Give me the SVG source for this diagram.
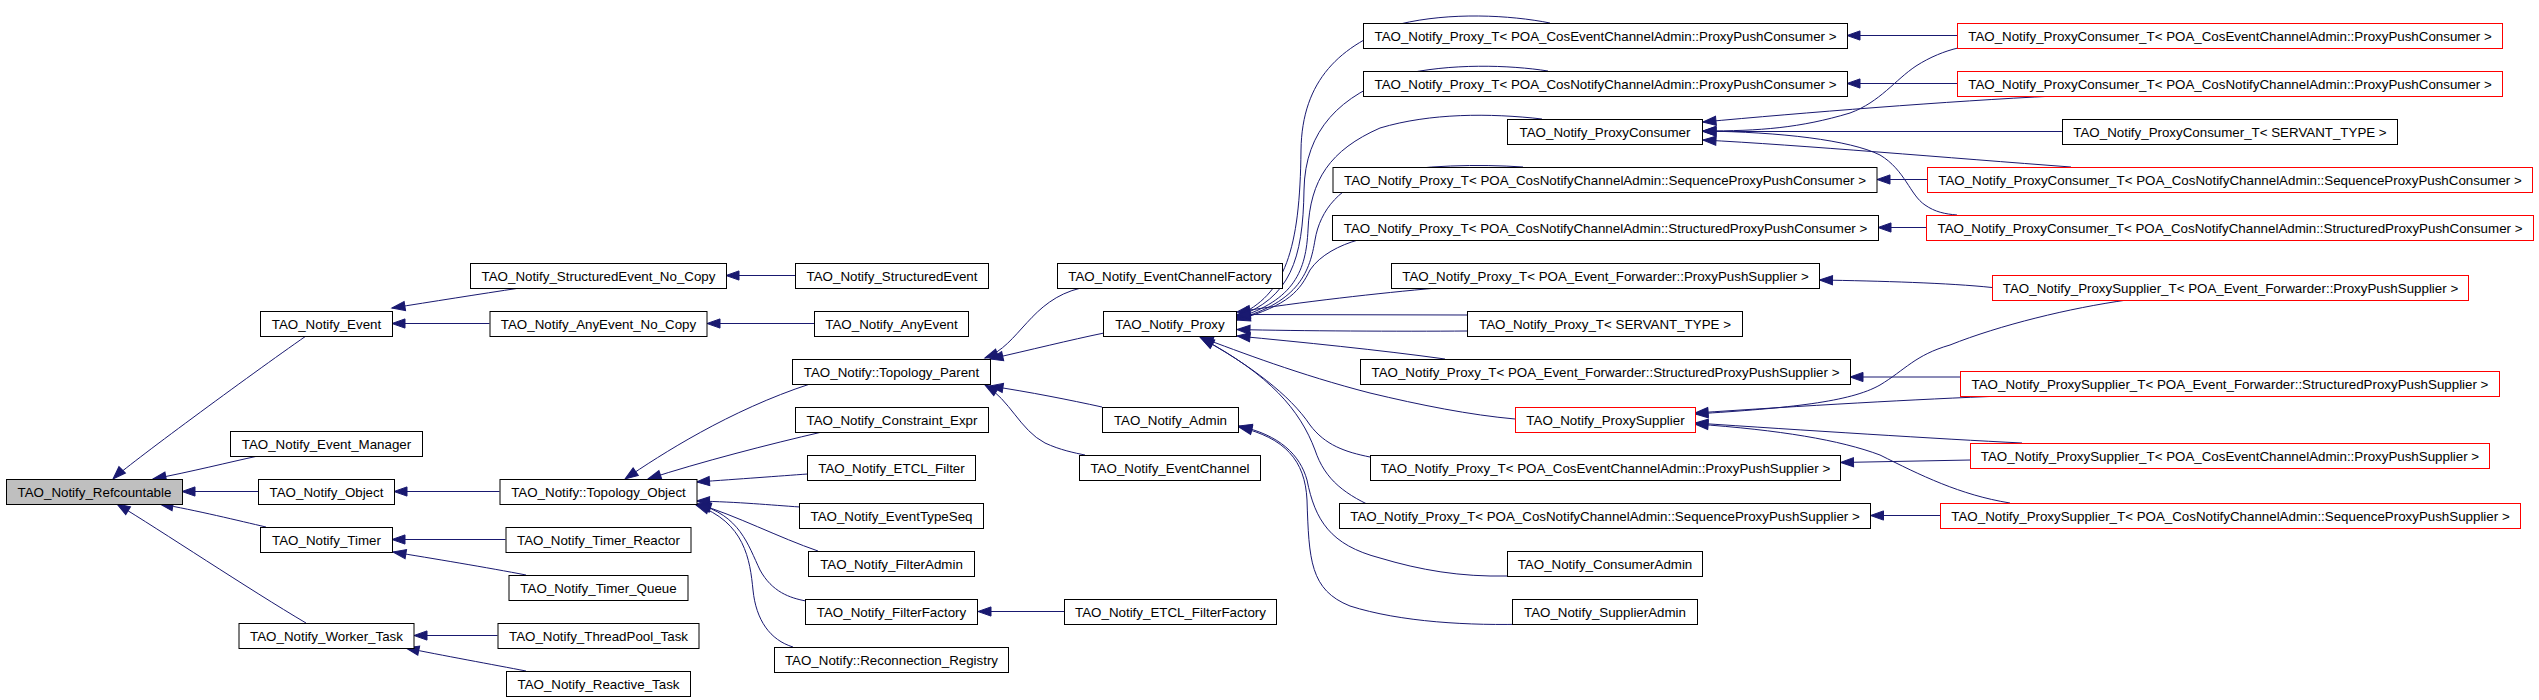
<svg xmlns="http://www.w3.org/2000/svg" width="2539" height="700" viewBox="0 0 2539 700">
<style>
rect{fill:#ffffff;stroke:#000000;stroke-width:1}
rect.r{stroke:#ff0000}
rect.g{fill:#bfbfbf}
text{font-family:"Liberation Sans",Arial,Helvetica,sans-serif;font-size:13.33px;fill:#000000;text-anchor:middle}
#edges path{fill:none;stroke:#191970;stroke-width:1;marker-start:url(#ah)}
</style>
<defs>
<marker id="ah" markerUnits="userSpaceOnUse" markerWidth="16" markerHeight="12" refX="0" refY="5" orient="auto" viewBox="0 0 16 10" overflow="visible">
<path d="M0,5 L13,0.4 L13,9.6 Z" fill="#191970" stroke="#191970" stroke-width="1"/>
</marker>
</defs>
<rect x="0" y="0" width="2539" height="700" style="fill:#ffffff;stroke:none"/>
<g id="edges">
<path d="M113,479 C125,467 250,375 306,336"/>
<path d="M153,479 C190,472 230,462 258,456"/>
<path d="M182,491.5 L258,491.5"/>
<path d="M160,504 C195,510 240,521 266,527"/>
<path d="M117,504 C160,530 250,590 306,623"/>
<path d="M392,308 C430,302 480,294 520,288"/>
<path d="M392,323.5 L489.5,323.5"/>
<path d="M726,275.5 L795,275.5"/>
<path d="M707,323.5 L814.5,323.5"/>
<path d="M394,491.5 L499.5,491.5"/>
<path d="M392,539.5 L505.5,539.5"/>
<path d="M393,552 C430,558 490,568 526,575"/>
<path d="M414,635.5 L497.5,635.5"/>
<path d="M406,648 C440,655 495,665 526,671"/>
<path d="M625,479 C660,455 730,410 810,384"/>
<path d="M648,479 C700,462 770,444 822,432"/>
<path d="M696.5,482 C740,479 780,476 807.5,474"/>
<path d="M696.5,501 C740,502 770,505 800,507"/>
<path d="M698,504 C735,515 780,538 818,551"/>
<path d="M697,504 C740,515 748,545 760,570 C772,592 790,598 806,601"/>
<path d="M696,505 C745,522 750,560 753,590 C756,620 770,640 793,647"/>
<path d="M978,611.5 L1064,611.5"/>
<path d="M985,358 C1020,345 1030,300 1081,288"/>
<path d="M990,359 C1030,350 1070,340 1104,333"/>
<path d="M990,386 C1030,392 1070,400 1102,407"/>
<path d="M985,385 C1010,400 1020,430 1045,443 C1060,450 1075,453 1085,455"/>
<path d="M1237,316 C1285,295 1300,250 1301,150 C1302,80 1340,45 1400,24 C1450,12 1510,15 1550,23"/>
<path d="M1237,317 C1290,298 1303,260 1304,190 C1305,130 1340,95 1400,75 C1450,63 1510,65 1548,71"/>
<path d="M1237,318 C1295,300 1306,270 1308,230 C1310,180 1330,150 1380,128 C1430,113 1490,113 1542,119"/>
<path d="M1237,319 C1300,302 1310,270 1315,240 C1320,210 1340,185 1380,174 C1420,165 1480,164 1523,167"/>
<path d="M1237,320 C1290,305 1300,290 1310,270 C1320,255 1340,245 1358,240"/>
<path d="M1237,312 C1300,302 1380,293 1437,288"/>
<path d="M1237,314.5 L1467.5,315"/>
<path d="M1237,329.5 C1300,331 1400,331.5 1467.5,331"/>
<path d="M1237,336 C1300,342 1380,350 1445,359"/>
<path d="M1200,337 C1240,352 1300,375 1370,393 C1420,405 1470,415 1515,419"/>
<path d="M1201,338 C1250,365 1290,395 1310,425 C1325,445 1345,452 1370,457"/>
<path d="M1201,338 C1270,375 1300,410 1315,450 C1325,480 1345,495 1380,510 C1420,524 1460,528 1500,528"/>
<path d="M1239,426 C1280,435 1300,455 1307,480 C1315,520 1330,545 1380,558 C1420,570 1460,577 1507.5,576"/>
<path d="M1239,427 C1285,438 1305,460 1307,500 C1309,560 1310,590 1350,606 C1400,622 1470,626 1530,624"/>
<path d="M1847,35.5 L1957.5,35.5"/>
<path d="M1847,83.5 L1957.5,83.5"/>
<path d="M1877,179.5 L1927.5,179.5"/>
<path d="M1878,227.5 L1926.5,227.5"/>
<path d="M1703,131 C1760,131 1800,128 1850,113 C1880,102 1895,80 1916,66 C1930,57 1945,51 1958,48"/>
<path d="M1703,122 C1800,113 1950,101 2055,96"/>
<path d="M1703,131.5 L2062.5,131.5"/>
<path d="M1703,140 C1800,145 1950,158 2071,167"/>
<path d="M1703,131 C1780,132 1850,140 1880,155 C1905,170 1910,195 1925,205 C1935,212 1945,214 1957,215"/>
<path d="M1819.5,280 C1880,281 1950,283 1992,287.5"/>
<path d="M1850,377 L1960.5,377"/>
<path d="M1840.5,462.5 L1970.5,460"/>
<path d="M1870.5,515.5 L1940,515.5"/>
<path d="M1695,414 C1790,408 1850,402 1880,385 C1905,370 1915,355 1950,345 C2000,325 2070,308 2127,300"/>
<path d="M1695,413 C1800,406 1920,399 2003,396"/>
<path d="M1695,423 C1800,430 1940,439 2022,443"/>
<path d="M1695,424 C1780,430 1840,440 1880,455 C1920,475 1960,495 2010,503"/>
</g>
<g id="n_refcountable"><rect class="g" x="6.5" y="479.5" width="176" height="25"/><text x="94.5" y="496.5">TAO_Notify_Refcountable</text></g>
<g id="n_event"><rect x="260.5" y="311.5" width="132" height="25"/><text x="326.5" y="328.5">TAO_Notify_Event</text></g>
<g id="n_event_manager"><rect x="230.5" y="431.5" width="192" height="25"/><text x="326.5" y="448.5">TAO_Notify_Event_Manager</text></g>
<g id="n_object"><rect x="258.5" y="479.5" width="136" height="25"/><text x="326.5" y="496.5">TAO_Notify_Object</text></g>
<g id="n_timer"><rect x="260.5" y="527.5" width="132" height="25"/><text x="326.5" y="544.5">TAO_Notify_Timer</text></g>
<g id="n_worker_task"><rect x="239" y="623.5" width="175" height="25"/><text x="326.5" y="640.5">TAO_Notify_Worker_Task</text></g>
<g id="n_se_nocopy"><rect x="470.5" y="263.5" width="256" height="25"/><text x="598.5" y="280.5">TAO_Notify_StructuredEvent_No_Copy</text></g>
<g id="n_ae_nocopy"><rect x="490" y="311.5" width="217" height="25"/><text x="598.5" y="328.5">TAO_Notify_AnyEvent_No_Copy</text></g>
<g id="n_topology_object"><rect x="500" y="479.5" width="197" height="25"/><text x="598.5" y="496.5">TAO_Notify::Topology_Object</text></g>
<g id="n_timer_reactor"><rect x="506" y="527.5" width="185" height="25"/><text x="598.5" y="544.5">TAO_Notify_Timer_Reactor</text></g>
<g id="n_timer_queue"><rect x="509" y="575.5" width="179" height="25"/><text x="598.5" y="592.5">TAO_Notify_Timer_Queue</text></g>
<g id="n_threadpool_task"><rect x="498" y="623.5" width="201" height="25"/><text x="598.5" y="640.5">TAO_Notify_ThreadPool_Task</text></g>
<g id="n_reactive_task"><rect x="506.5" y="671.5" width="184" height="25"/><text x="598.5" y="688.5">TAO_Notify_Reactive_Task</text></g>
<g id="n_structuredevent"><rect x="795.5" y="263.5" width="193" height="25"/><text x="892" y="280.5">TAO_Notify_StructuredEvent</text></g>
<g id="n_anyevent"><rect x="814.5" y="311.5" width="154" height="25"/><text x="891.5" y="328.5">TAO_Notify_AnyEvent</text></g>
<g id="n_topology_parent"><rect x="792.5" y="359.5" width="198" height="25"/><text x="891.5" y="376.5">TAO_Notify::Topology_Parent</text></g>
<g id="n_constraint_expr"><rect x="795.5" y="407.5" width="193" height="25"/><text x="892" y="424.5">TAO_Notify_Constraint_Expr</text></g>
<g id="n_etcl_filter"><rect x="807.5" y="455.5" width="168" height="25"/><text x="891.5" y="472.5">TAO_Notify_ETCL_Filter</text></g>
<g id="n_eventtypeseq"><rect x="799.5" y="503.5" width="184" height="25"/><text x="891.5" y="520.5">TAO_Notify_EventTypeSeq</text></g>
<g id="n_filteradmin"><rect x="808.5" y="551.5" width="166" height="25"/><text x="891.5" y="568.5">TAO_Notify_FilterAdmin</text></g>
<g id="n_filterfactory"><rect x="805.5" y="599.5" width="172" height="25"/><text x="891.5" y="616.5">TAO_Notify_FilterFactory</text></g>
<g id="n_reconnection_registry"><rect x="774.5" y="647.5" width="234" height="25"/><text x="891.5" y="664.5">TAO_Notify::Reconnection_Registry</text></g>
<g id="n_eventchannelfactory"><rect x="1057.5" y="263.5" width="225" height="25"/><text x="1170" y="280.5">TAO_Notify_EventChannelFactory</text></g>
<g id="n_proxy"><rect x="1103.5" y="311.5" width="133" height="25"/><text x="1170" y="328.5">TAO_Notify_Proxy</text></g>
<g id="n_admin"><rect x="1102.5" y="407.5" width="136" height="25"/><text x="1170.5" y="424.5">TAO_Notify_Admin</text></g>
<g id="n_eventchannel"><rect x="1079.5" y="455.5" width="181" height="25"/><text x="1170" y="472.5">TAO_Notify_EventChannel</text></g>
<g id="n_etcl_filterfactory"><rect x="1064.5" y="599.5" width="212" height="25"/><text x="1170.5" y="616.5">TAO_Notify_ETCL_FilterFactory</text></g>
<g id="n_pt_ce_ppc"><rect x="1363.5" y="23.5" width="484" height="25"/><text x="1605.5" y="40.5">TAO_Notify_Proxy_T&lt; POA_CosEventChannelAdmin::ProxyPushConsumer &gt;</text></g>
<g id="n_pt_cn_ppc"><rect x="1363.5" y="71.5" width="484" height="25"/><text x="1605.5" y="88.5">TAO_Notify_Proxy_T&lt; POA_CosNotifyChannelAdmin::ProxyPushConsumer &gt;</text></g>
<g id="n_proxyconsumer"><rect x="1507.5" y="119.5" width="195" height="25"/><text x="1605" y="136.5">TAO_Notify_ProxyConsumer</text></g>
<g id="n_pt_seq_ppc"><rect x="1333" y="167.5" width="544" height="25"/><text x="1605" y="184.5">TAO_Notify_Proxy_T&lt; POA_CosNotifyChannelAdmin::SequenceProxyPushConsumer &gt;</text></g>
<g id="n_pt_str_ppc"><rect x="1332.5" y="215.5" width="546" height="25"/><text x="1605.5" y="232.5">TAO_Notify_Proxy_T&lt; POA_CosNotifyChannelAdmin::StructuredProxyPushConsumer &gt;</text></g>
<g id="n_pt_ef_pps"><rect x="1391.5" y="263.5" width="428" height="25"/><text x="1605.5" y="280.5">TAO_Notify_Proxy_T&lt; POA_Event_Forwarder::ProxyPushSupplier &gt;</text></g>
<g id="n_pt_servant"><rect x="1467.5" y="311.5" width="275" height="25"/><text x="1605" y="328.5">TAO_Notify_Proxy_T&lt; SERVANT_TYPE &gt;</text></g>
<g id="n_pt_ef_spps"><rect x="1360.5" y="359.5" width="490" height="25"/><text x="1605.5" y="376.5">TAO_Notify_Proxy_T&lt; POA_Event_Forwarder::StructuredProxyPushSupplier &gt;</text></g>
<g id="n_proxysupplier"><rect class="r" x="1515.5" y="407.5" width="180" height="25"/><text x="1605.5" y="424.5">TAO_Notify_ProxySupplier</text></g>
<g id="n_pt_ce_pps"><rect x="1370.5" y="455.5" width="470" height="25"/><text x="1605.5" y="472.5">TAO_Notify_Proxy_T&lt; POA_CosEventChannelAdmin::ProxyPushSupplier &gt;</text></g>
<g id="n_pt_seq_pps"><rect x="1339.5" y="503.5" width="531" height="25"/><text x="1605" y="520.5">TAO_Notify_Proxy_T&lt; POA_CosNotifyChannelAdmin::SequenceProxyPushSupplier &gt;</text></g>
<g id="n_consumeradmin"><rect x="1507.5" y="551.5" width="195" height="25"/><text x="1605" y="568.5">TAO_Notify_ConsumerAdmin</text></g>
<g id="n_supplieradmin"><rect x="1512.5" y="599.5" width="185" height="25"/><text x="1605" y="616.5">TAO_Notify_SupplierAdmin</text></g>
<g id="n_pct_ce_ppc"><rect class="r" x="1957.5" y="23.5" width="545" height="25"/><text x="2230" y="40.5">TAO_Notify_ProxyConsumer_T&lt; POA_CosEventChannelAdmin::ProxyPushConsumer &gt;</text></g>
<g id="n_pct_cn_ppc"><rect class="r" x="1957.5" y="71.5" width="545" height="25"/><text x="2230" y="88.5">TAO_Notify_ProxyConsumer_T&lt; POA_CosNotifyChannelAdmin::ProxyPushConsumer &gt;</text></g>
<g id="n_pct_servant"><rect x="2062.5" y="119.5" width="335" height="25"/><text x="2230" y="136.5">TAO_Notify_ProxyConsumer_T&lt; SERVANT_TYPE &gt;</text></g>
<g id="n_pct_seq_ppc"><rect class="r" x="1927.5" y="167.5" width="605" height="25"/><text x="2230" y="184.5">TAO_Notify_ProxyConsumer_T&lt; POA_CosNotifyChannelAdmin::SequenceProxyPushConsumer &gt;</text></g>
<g id="n_pct_str_ppc"><rect class="r" x="1926.5" y="215.5" width="607" height="25"/><text x="2230" y="232.5">TAO_Notify_ProxyConsumer_T&lt; POA_CosNotifyChannelAdmin::StructuredProxyPushConsumer &gt;</text></g>
<g id="n_pst_ef_pps"><rect class="r" x="1992.5" y="275.5" width="476" height="25"/><text x="2230.5" y="292.5">TAO_Notify_ProxySupplier_T&lt; POA_Event_Forwarder::ProxyPushSupplier &gt;</text></g>
<g id="n_pst_ef_spps"><rect class="r" x="1960.5" y="371.5" width="539" height="25"/><text x="2230" y="388.5">TAO_Notify_ProxySupplier_T&lt; POA_Event_Forwarder::StructuredProxyPushSupplier &gt;</text></g>
<g id="n_pst_ce_pps"><rect class="r" x="1970.5" y="443.5" width="519" height="25"/><text x="2230" y="460.5">TAO_Notify_ProxySupplier_T&lt; POA_CosEventChannelAdmin::ProxyPushSupplier &gt;</text></g>
<g id="n_pst_seq_pps"><rect class="r" x="1940.5" y="503.5" width="580" height="25"/><text x="2230.5" y="520.5">TAO_Notify_ProxySupplier_T&lt; POA_CosNotifyChannelAdmin::SequenceProxyPushSupplier &gt;</text></g>
</svg>
